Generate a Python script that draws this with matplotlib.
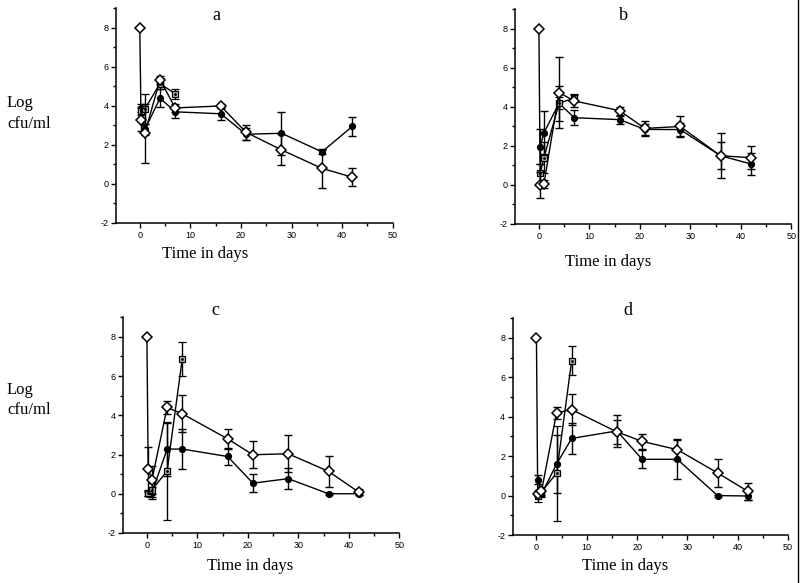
import matplotlib
matplotlib.use("Agg")
import matplotlib.pyplot as plt
from matplotlib.ticker import MultipleLocator

plt.rcParams["axes.unicode_minus"] = False
plt.rcParams["font.family"] = ["Liberation Sans", "DejaVu Sans"]

# ---- data ----
inoculum_day = 0
inoculum = 8
days = [0.25, 1, 4, 7, 16, 21, 28, 36, 42]
square_days = [0.25, 1, 4, 7]

a_diamond = [3.3, 2.6, 5.35, 3.9, 4.0, 2.65, 1.75, 0.8, 0.35]
a_diamond_err = [0.6, 1.5, 0.2, 0.2, 0.12, 0.4, 0.8, 1.0, 0.45]
a_circle = [3.9, 2.8, 4.4, 3.7, 3.6, 2.55, 2.6, 1.65, 2.95]
a_circle_err = [0.2, 0.3, 0.45, 0.3, 0.3, 0.3, 1.1, 0.1, 0.5]
a_square = [3.75, 3.85, 5.15, 4.62]
a_square_err = [0.2, 0.75, 0.3, 0.27]

b_diamond = [0.0, 0.07, 4.74, 4.31, 3.81, 2.9, 3.0, 1.5, 1.4]
b_diamond_err = [0.65, 0.2, 1.8, 0.3, 0.2, 0.4, 0.55, 1.15, 0.6]
b_circle = [1.97, 2.68, 4.19, 3.45, 3.35, 2.85, 2.84, 1.5, 1.08]
b_circle_err = [0.9, 1.1, 0.9, 0.4, 0.2, 0.3, 0.35, 0.7, 0.55]
b_square = [0.6, 1.4, 4.2, 4.45]
b_square_err = [0.5, 0.8, 0.3, 0.2]

c_diamond = [1.26, 0.71, 4.4, 4.08, 2.8, 1.99, 2.04, 1.14, 0.08]
c_diamond_err = [1.1, 0.7, 0.35, 0.95, 0.5, 0.68, 0.95, 0.8, 0.15]
c_circle = [0.0, 0.05, 2.28, 2.28, 1.9, 0.54, 0.77, 0.0, 0.0]
c_circle_err = [0.1, 0.3, 1.35, 1.0, 0.42, 0.47, 0.55, 0.05, 0.05]
c_square = [0.03, 0.2, 1.16, 6.87]
c_square_err = [0.15, 0.35, 2.52, 0.85]

d_diamond = [0.07, 0.22, 4.2, 4.36, 3.23, 2.75, 2.33, 1.15, 0.22]
d_diamond_err = [0.1, 0.2, 0.3, 0.8, 0.62, 0.37, 0.52, 0.7, 0.42]
d_circle = [0.81, 0.07, 1.6, 2.9, 3.28, 1.84, 1.84, 0.0, -0.02]
d_circle_err = [0.22, 0.1, 1.45, 0.78, 0.8, 0.45, 1.0, 0.05, 0.2]
d_square = [0.0, 0.2, 1.13, 6.84]
d_square_err = [0.3, 0.25, 2.4, 0.73]

panels = [
    ("a", a_diamond, a_diamond_err, a_circle, a_circle_err, a_square, a_square_err),
    ("b", b_diamond, b_diamond_err, b_circle, b_circle_err, b_square, b_square_err),
    ("c", c_diamond, c_diamond_err, c_circle, c_circle_err, c_square, c_square_err),
    ("d", d_diamond, d_diamond_err, d_circle, d_circle_err, d_square, d_square_err),
]

# axes rectangles in figure fraction (left, bottom, width, height)
rects = [
    (0.145, 0.6175, 0.346, 0.368),
    (0.644, 0.6158, 0.345, 0.368),
    (0.154, 0.0858, 0.345, 0.370),
    (0.641, 0.0823, 0.344, 0.372),
]
title_pos = [(216, 15), (623, 15), (215, 310), (628, 310)]
xlabel_pos = [(205, 254), (608, 262), (250, 566), (625, 566)]
ylabel_pos = [(103, 124), (390, 410)]

serif = ["Liberation Serif", "DejaVu Serif"]
W, H = 800, 583
fig = plt.figure(figsize=(8, 5.83), dpi=100)

ekw = dict(color="black", lw=1.0, capsize=3, capthick=1.0, elinewidth=1.0)

for (name, dia, dia_e, cir, cir_e, sq, sq_e), rect, tp, xp in zip(panels, rects, title_pos, xlabel_pos):
    ax = fig.add_axes(rect)
    # circles
    ax.errorbar(days, cir, yerr=cir_e, fmt="-o", ms=4.2, mfc="black", mec="black", zorder=2, **ekw)
    # squares
    ax.errorbar(square_days, sq, yerr=sq_e, fmt="-s", ms=4.2, mfc="#bbbbbb", mec="black", mew=0.9, zorder=3, **ekw)
    ax.plot(square_days, sq, ls="none", marker=".", ms=2, color="black", zorder=3.5)
    # diamonds (with inoculum point)
    ax.errorbar(days, dia, yerr=dia_e, fmt="none", zorder=4, **ekw)
    ax.plot([inoculum_day] + days, [inoculum] + dia, "-D", color="black", lw=1.0, ms=5.2,
            mfc="white", mec="black", mew=1.1, zorder=5)

    ax.set_xlim(-4.7, 50)
    ax.set_ylim(-2, 9)
    ax.xaxis.set_major_locator(MultipleLocator(10))
    ax.xaxis.set_minor_locator(MultipleLocator(5))
    ax.yaxis.set_major_locator(MultipleLocator(2))
    ax.yaxis.set_minor_locator(MultipleLocator(1))
    for s in ("top", "right"):
        ax.spines[s].set_visible(False)
    for s in ("left", "bottom"):
        ax.spines[s].set_linewidth(1.1)
    ax.tick_params(which="major", direction="out", length=3.5, width=1, labelsize=6.5, pad=2)
    ax.tick_params(which="minor", direction="out", length=2, width=1)
    ax.set_yticks([-2, 0, 2, 4, 6, 8])

    fig.text(tp[0] / W, 1 - tp[1] / H, name, ha="center", va="center", fontsize=13, family=serif)
    fig.text(xp[0] / W, 1 - xp[1] / H, "Time in days", ha="center", va="center", fontsize=12, family=serif)

for (y1, y2) in ylabel_pos:
    fig.text(7 / W, 1 - y1 / H, "Log", ha="left", va="center", fontsize=12, family=serif)
    fig.text(7 / W, 1 - y2 / H, "cfu/ml", ha="left", va="center", fontsize=12, family=serif)

# right-hand border line of the scanned figure
fig.add_artist(plt.Line2D([797.5 / W, 797.5 / W], [0, 1], color="black", lw=1.0, transform=fig.transFigure))

fig.savefig("out.png", dpi=100)
